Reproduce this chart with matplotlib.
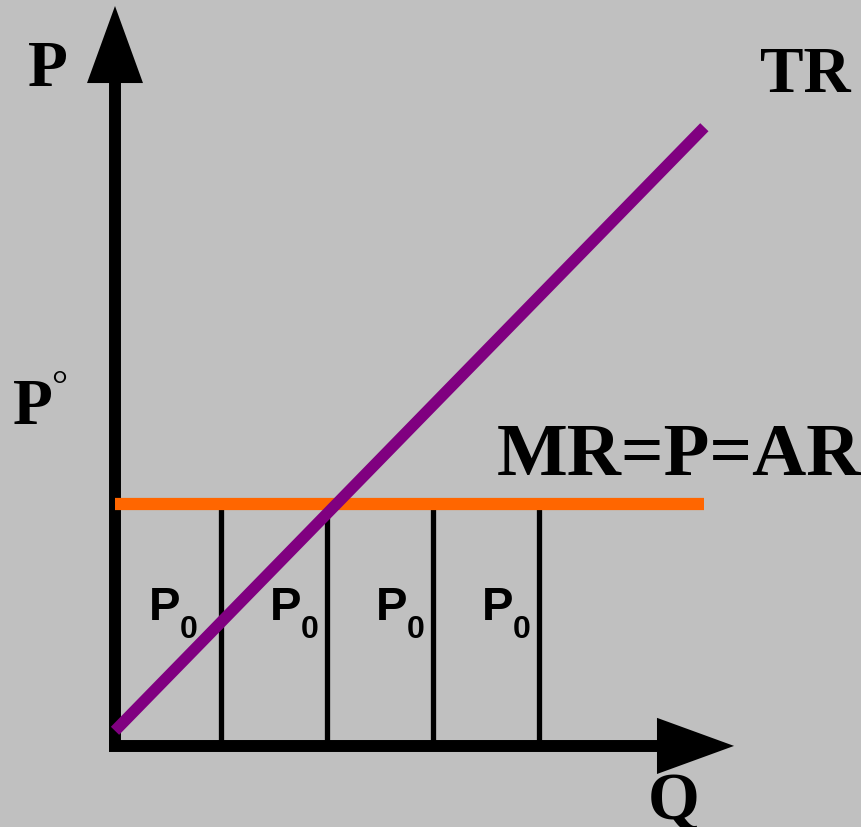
import matplotlib
matplotlib.use("Agg")
import matplotlib.pyplot as plt

# chart values (Q in units of output, P in units of the price P0)
q_marks = [1, 2, 3, 4]
price = 1.0
q_end = 5.56
tr_q = [0.0, 5.56]
tr_val = [0.055, 2.57]
box_labels = ["P", "P", "P", "P"]

BG = "#C0C0C0"
SERIF = ["Liberation Serif", "DejaVu Serif"]
SANS = ["Liberation Sans", "DejaVu Sans"]

fig = plt.figure(figsize=(8.61, 8.28), dpi=100, facecolor=BG)
ax = fig.add_axes([0, 0, 1, 1])
ax.set_facecolor(BG)
# 1 Q unit = 106 px, 1 P unit = 240 px, origin at pixel (115, 745)
ax.set_xlim(-115 / 106, (861 - 115) / 106)
ax.set_ylim(-(828 - 745) / 240, 745 / 240)
ax.axis("off")

# axes with arrow heads
ax.plot([0, 0], [-0.01, 2.755], color="black", lw=8.6, solid_capstyle="butt")
ax.fill([-0.264, 0.264, 0], [2.754, 2.754, 3.075], color="black", lw=0)
ax.plot([-0.057, 5.12], [-0.008, -0.008], color="black", lw=8.6, solid_capstyle="butt")
ax.fill([5.113, 5.113, 5.84], [-0.125, 0.109, -0.008], color="black", lw=0)

# quantity markers
for q in q_marks:
    ax.plot([q, q], [0, price], color="black", lw=3.8, solid_capstyle="butt")

# MR = P = AR
ax.plot([0, q_end], [price, price], color="#FF6600", lw=8.8, solid_capstyle="butt")

# TR
ax.plot(tr_q, tr_val, color="#800080", lw=8.3, solid_capstyle="butt")

# P0 labels inside each strip
for q, lab in zip(q_marks, box_labels):
    x0 = q - 1 + (149 - 115) / 106
    if q > 1:
        x0 = q - 1 + (164 - 115) / 106
    ax.text(x0, (745 - 620) / 240, lab, fontsize=34, fontweight="bold",
            family=SANS, ha="left", va="baseline")
    ax.text(x0 + 31 / 106, (745 - 638) / 240, "0", fontsize=23, fontweight="bold",
            family=SANS, ha="left", va="baseline")

# axis / curve labels
ax.text((28 - 115) / 106, (745 - 86) / 240, "P", fontsize=47, fontweight="bold",
        family=SERIF, ha="left", va="baseline")
ax.text((13 - 115) / 106, (745 - 424) / 240, "P", fontsize=47, fontweight="bold",
        family=SERIF, ha="left", va="baseline")
ax.text((51 - 115) / 106, (745 - 398) / 240, "°", fontsize=29,
        family=SERIF, ha="left", va="baseline")
ax.text((760 - 115) / 106, (745 - 92) / 240, "TR", fontsize=47, fontweight="bold",
        family=SERIF, ha="left", va="baseline")
ax.text((497 - 115) / 106, (745 - 475) / 240, "MR=P=AR", fontsize=54, fontweight="bold",
        family=SERIF, ha="left", va="baseline")
ax.text((648 - 115) / 106, (745 - 819) / 240, "Q", fontsize=48, fontweight="bold",
        family=SERIF, ha="left", va="baseline")

fig.savefig("out.png", dpi=100, facecolor=BG)
